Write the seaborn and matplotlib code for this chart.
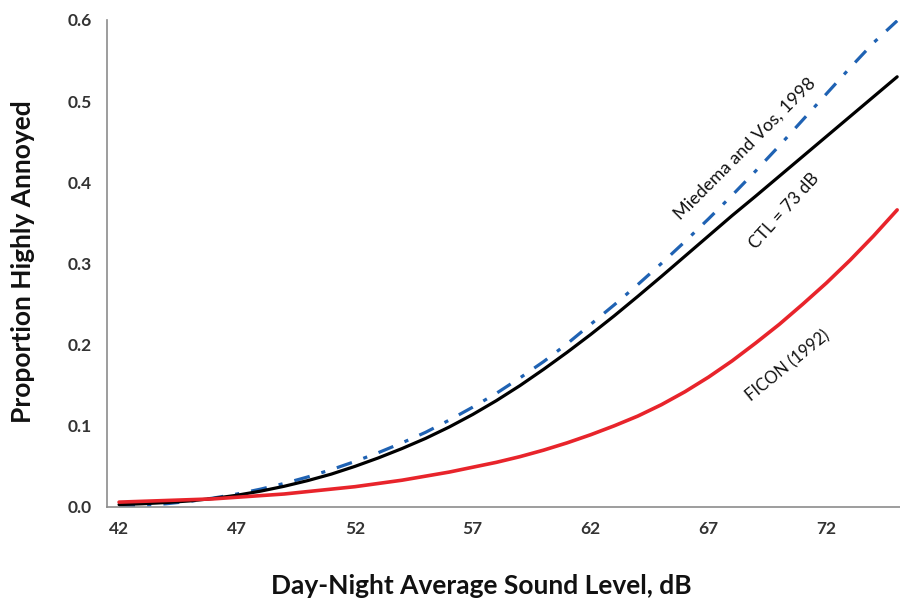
import numpy as np
import pandas as pd
import matplotlib
matplotlib.use('Agg')
import matplotlib.pyplot as plt
import seaborn as sns

# Day-night average sound level, dB
levels = list(range(42, 76))

# Proportion highly annoyed
miedema_vos = [0.000, 0.002, 0.004, 0.007, 0.011, 0.016, 0.022, 0.029, 0.037, 0.046,
               0.056, 0.067, 0.079, 0.092, 0.107, 0.123, 0.140, 0.159, 0.179, 0.201,
               0.225, 0.249, 0.274, 0.300, 0.327, 0.355, 0.384, 0.414, 0.445, 0.477,
               0.509, 0.541, 0.572, 0.599]
ctl_73 = [0.003, 0.004, 0.0055, 0.0075, 0.0105, 0.0145, 0.0195, 0.0255, 0.0325, 0.0405,
          0.050, 0.0605, 0.072, 0.0845, 0.0985, 0.114, 0.131, 0.1495, 0.1695, 0.1905,
          0.2125, 0.2355, 0.2595, 0.284, 0.309, 0.334, 0.359, 0.383, 0.4075, 0.432,
          0.4565, 0.481, 0.5055, 0.530]
ficon = [0.006, 0.007, 0.008, 0.009, 0.010, 0.012, 0.014, 0.016, 0.019, 0.022,
         0.025, 0.029, 0.033, 0.038, 0.043, 0.049, 0.055, 0.062, 0.070, 0.079,
         0.089, 0.100, 0.112, 0.126, 0.142, 0.160, 0.180, 0.202, 0.225, 0.250,
         0.276, 0.304, 0.334, 0.366]

xticks = [42, 47, 52, 57, 62, 67, 72]
yticks = [0.0, 0.1, 0.2, 0.3, 0.4, 0.5, 0.6]

sns.set_style('white')
plt.rcParams['font.family'] = ['Lato', 'DejaVu Sans']

fig = plt.figure(figsize=(9, 6.05), dpi=100)
ax = fig.add_axes([0.1192, 0.162, 0.8808, 0.805])

sns.lineplot(x=levels, y=miedema_vos, ax=ax, color='#1f62b3', lw=2.3,
             linestyle=(0, (5.0, 3.8, 1.3, 3.8)))
sns.lineplot(x=levels, y=ctl_73, ax=ax, color='black', lw=2.3)
sns.lineplot(x=levels, y=ficon, ax=ax, color='#e8242b', lw=2.6)

ax.set_xlim(41.5, 75.12)
ax.set_ylim(0, 0.6)

# category-style axis: labels at the values, tick marks between them
ax.set_xticks(xticks)
ax.set_xticklabels([str(t) for t in xticks])
ax.set_xticks([t - 0.5 for t in xticks[1:]], minor=True)
ax.tick_params(axis='x', which='major', length=0, pad=10)
ax.tick_params(axis='x', which='minor', length=5, width=1, color='#8c8c8c', direction='out')
ax.set_yticks(yticks)
ax.set_yticklabels([f'{t:.1f}' for t in yticks])
ax.tick_params(axis='y', length=5, width=1, color='#8c8c8c', direction='out', pad=6)
for lab in ax.get_xticklabels() + ax.get_yticklabels():
    lab.set_fontweight('bold')
    lab.set_fontsize(12.5)
    lab.set_color('#333333')

for s in ['top', 'right']:
    ax.spines[s].set_visible(False)
for s in ['left', 'bottom']:
    ax.spines[s].set_color('#8c8c8c')
    ax.spines[s].set_linewidth(1.2)

fig.text(0.535, 0.012, 'Day-Night Average Sound Level, dB', ha='center', va='bottom',
         fontsize=19, fontweight='bold', color='#111111')
fig.text(0.026, 0.567, 'Proportion Highly Annoyed', ha='center', va='center',
         rotation=90, fontsize=19, fontweight='bold', color='#111111')

ax.text(68.55, 0.442, 'Miedema and Vos, 1998', rotation=45, ha='center', va='center',
        fontsize=13, color='#111111')
ax.text(70.2, 0.364, 'CTL = 73 dB', rotation=48, ha='center', va='center',
        fontsize=12.5, color='#111111')
ax.text(70.36, 0.174, 'FICON (1992)', rotation=39, ha='center', va='center',
        fontsize=12, color='#111111')

fig.savefig('out.png', dpi=100)
